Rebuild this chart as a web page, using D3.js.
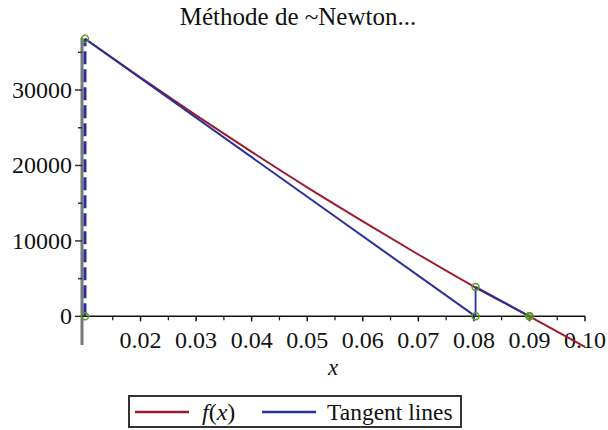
<!DOCTYPE html>
<html>
<head>
<meta charset="utf-8">
<script src="https://cdn.jsdelivr.net/npm/d3@7"></script>
</head>
<body style="margin:0">
<svg id="chart" width="608" height="430"></svg>
<script>
// f(x) sampled along the plotted interval
const sampleX = [0.01, 0.02, 0.03, 0.04, 0.05, 0.06, 0.07, 0.08, 0.09, 0.10];
const sampleF = [36800, 31650, 26650, 21800, 17100, 12600, 8200, 3950, 0, -4050];

// Newton iterates x_n and f(x_n)
const iterX = [0.01, 0.0803, 0.09];
const iterF = [36800, 3900, 0];

// axis ticks
const xMajor = [0.02, 0.03, 0.04, 0.05, 0.06, 0.07, 0.08, 0.09, 0.10];
const xMinor = [0.015, 0.025, 0.035, 0.045, 0.055, 0.065, 0.075, 0.085, 0.095];
const yMajor = [0, 10000, 20000, 30000];
const yMinor = [5000, 15000, 25000, 35000];

const title = "Méthode de ~Newton...";
const legendItems = ["f(x)", "Tangent lines"];

const RED = "#9a1c2e";
const BLUE = "#28309a";
const GREEN = "#5c9a22";
const INK = "#111";

const svg = d3.select("#chart");

const x = d3.scaleLinear().domain([0.00946, 0.10]).range([82, 585]);
const y = d3.scaleLinear().domain([-3800, 36900]).range([345, 38]);

function label(sel) {
  sel.attr("font-family", "Liberation Serif")
     .style("font-family", '"Liberation Serif"')
     .attr("fill", INK);
}

// title
svg.append("text")
  .attr("x", 298).attr("y", 25)
  .attr("text-anchor", "middle")
  .attr("font-size", 25)
  .call(label)
  .text(title);

// vertical axis (grey spine at left edge)
svg.append("line")
  .attr("x1", x.range()[0]).attr("x2", x.range()[0])
  .attr("y1", y.range()[1]).attr("y2", y.range()[0])
  .attr("stroke", "#777").attr("stroke-width", 3);

const yAxisG = svg.append("g");
yAxisG.selectAll("line.maj").data(yMajor).enter().append("line")
  .attr("x1", x.range()[0] - 7).attr("x2", x.range()[0])
  .attr("y1", d => y(d)).attr("y2", d => y(d))
  .attr("stroke", "#333").attr("stroke-width", 1.5);
yAxisG.selectAll("line.min").data(yMinor).enter().append("line")
  .attr("x1", x.range()[0] - 4).attr("x2", x.range()[0])
  .attr("y1", d => y(d)).attr("y2", d => y(d))
  .attr("stroke", "#333").attr("stroke-width", 1.5);
yAxisG.selectAll("text").data(yMajor).enter().append("text")
  .attr("x", x.range()[0] - 10)
  .attr("y", d => y(d) + 8)
  .attr("text-anchor", "end")
  .attr("font-size", 24)
  .call(label)
  .text(d => d3.format("d")(d));

// horizontal axis at y = 0
const y0 = y(0);
svg.append("line")
  .attr("x1", x.range()[0]).attr("x2", x(0.10))
  .attr("y1", y0).attr("y2", y0)
  .attr("stroke", INK).attr("stroke-width", 1.5);
const xAxisG = svg.append("g");
xAxisG.selectAll("line.maj").data(xMajor).enter().append("line")
  .attr("x1", d => x(d)).attr("x2", d => x(d))
  .attr("y1", y0).attr("y2", y0 + 5)
  .attr("stroke", INK).attr("stroke-width", 1.5);
xAxisG.selectAll("line.min").data(xMinor).enter().append("line")
  .attr("x1", d => x(d)).attr("x2", d => x(d))
  .attr("y1", y0).attr("y2", y0 + 4)
  .attr("stroke", INK).attr("stroke-width", 1.2);
xAxisG.selectAll("text").data(xMajor).enter().append("text")
  .attr("x", d => x(d))
  .attr("y", y0 + 31.5)
  .attr("text-anchor", "middle")
  .attr("font-size", 24)
  .call(label)
  .text(d => d3.format(".2f")(d));

svg.append("text")
  .attr("x", 333).attr("y", 375)
  .attr("text-anchor", "middle")
  .attr("font-size", 23)
  .attr("font-style", "italic")
  .call(label)
  .text("x");

// f(x) curve
const line = d3.line().x(d => x(d[0])).y(d => y(d[1])).curve(d3.curveMonotoneX);
svg.append("path")
  .datum(sampleX.map((v, i) => [v, sampleF[i]]))
  .attr("d", line)
  .attr("fill", "none")
  .attr("stroke", RED)
  .attr("stroke-width", 2);

// Newton construction: vertical from (x_n,0) to (x_n,f(x_n)), tangent to (x_{n+1},0)
for (let i = 0; i < iterX.length - 1; i++) {
  const v = svg.append("line")
    .attr("x1", x(iterX[i])).attr("x2", x(iterX[i]))
    .attr("y1", y(0)).attr("y2", y(iterF[i]))
    .attr("stroke", BLUE);
  if (i === 0) {
    v.attr("stroke-width", 3).attr("stroke-dasharray", "13,5");
  } else {
    v.attr("stroke-width", 1.8);
  }
  svg.append("line")
    .attr("x1", x(iterX[i])).attr("y1", y(iterF[i]))
    .attr("x2", x(iterX[i + 1])).attr("y2", y(0))
    .attr("stroke", BLUE).attr("stroke-width", 2);
}

// iterate markers
const markers = [];
iterX.forEach((v, i) => {
  markers.push([v, 0]);
  if (iterF[i] !== 0) markers.push([v, iterF[i]]);
});
svg.selectAll("circle.pt").data(markers).enter().append("circle")
  .attr("cx", d => x(d[0])).attr("cy", d => y(d[1]))
  .attr("r", 3.5)
  .attr("fill", "none")
  .attr("stroke", GREEN)
  .attr("stroke-width", 1.5);
svg.append("circle")
  .attr("cx", x(iterX[2])).attr("cy", y(0)).attr("r", 3.5)
  .attr("fill", GREEN).attr("fill-opacity", 0.6)
  .attr("stroke", GREEN).attr("stroke-width", 1.5);

// legend
const lg = svg.append("g");
lg.append("rect")
  .attr("x", 129).attr("y", 396).attr("width", 332).attr("height", 31)
  .attr("fill", "#fff").attr("stroke", "#333").attr("stroke-width", 2);
lg.append("line").attr("x1", 135).attr("x2", 189).attr("y1", 412).attr("y2", 412)
  .attr("stroke", RED).attr("stroke-width", 2.5);
lg.append("text").attr("x", 202).attr("y", 420).attr("font-size", 24)
  .call(label)
  .html('<tspan font-style="italic">f</tspan>(<tspan font-style="italic">x</tspan>)');
lg.append("line").attr("x1", 262).attr("x2", 316).attr("y1", 412).attr("y2", 412)
  .attr("stroke", BLUE).attr("stroke-width", 2.5);
lg.append("text").attr("x", 327).attr("y", 420).attr("font-size", 23.5)
  .call(label)
  .text(legendItems[1]);
</script>
</body>
</html>
